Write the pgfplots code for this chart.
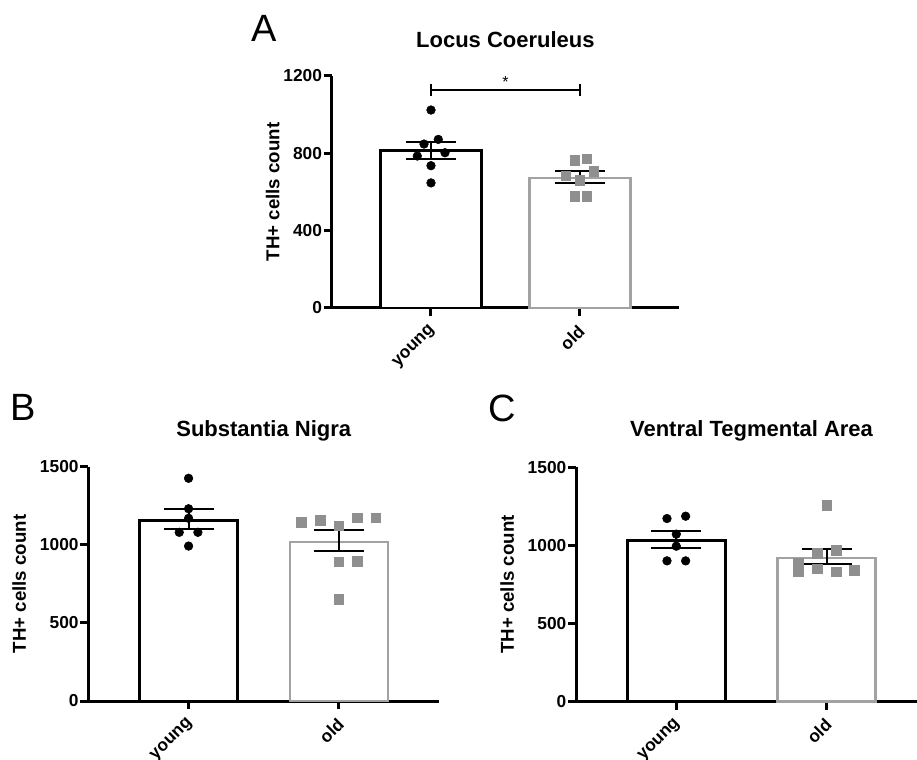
\documentclass[border=0pt]{standalone}
\usepackage{fontspec}
\setmainfont{Liberation Sans}
\usepackage{pgfplots}
\pgfplotsset{compat=1.18}
\definecolor{sqgray}{RGB}{143,143,143}
\definecolor{bargray}{RGB}{162,162,162}

\pgfplotsset{
 panel/.style={
  scale only axis, width=263.25pt, height=175.7pt,
  xmin=-0.667, xmax=1.667, ymin=0,
  axis x line*=bottom, axis y line*=left,
  axis line style={line width=2.25pt, black},
  tick style={line width=2.25pt, black},
  tick align=outside, major tick length=6pt,
  xtick={0,1}, xticklabels={young,old},
  xticklabel style={rotate=45, anchor=east, xshift=-2.1pt, yshift=-7.4pt, font=\fontsize{13}{15}\selectfont\bfseries},
  yticklabel style={xshift=2.25pt, font=\fontsize{13}{15}\selectfont\bfseries},
  /pgf/number format/assume math mode=true,
  /pgf/number format/1000 sep={},
  ylabel={TH+ cells count},
  ylabel style={font=\fontsize{14}{16}\selectfont\bfseries, anchor=center},
  title style={font=\fontsize{16.5}{18}\selectfont\bfseries, at={(axis description cs:0.5,1)}, anchor=center, yshift=21.25pt},
  clip=false,
 },
 ybk/.style={ybar, bar shift=0pt, bar width=#1, draw=black, fill=white, line width=2pt},
 ybg/.style={ybar, bar shift=0pt, bar width=#1, draw=bargray, fill=white, line width=2pt},
 ptc/.style={only marks, mark=*, mark size=3.25pt, black},
 pts/.style={only marks, mark=square*, mark size=3.6pt, sqgray},
 seb/.style={draw=none, mark=none, error bars/.cd, y dir=both, y explicit,
   error mark=|,
   error bar style={draw=black, line width=1.5pt},
   error mark options={draw=black, line width=1.5pt, mark size=18.75pt}},
}

\begin{document}
\begin{tikzpicture}
% Panel A
\begin{axis}[panel, at={(248.8pt,339pt)}, anchor=south west, width=260.5pt, height=174pt,
  ymax=1200, ytick={0,400,800,1200}, title={Locus Coeruleus},
  ylabel style={at={(axis description cs:-0.17,0.5)}}]
\addplot[ybk=75.75pt] coordinates {(0,813)};
\addplot[ybg=75.75pt] coordinates {(1,673)};
\addplot[ptc] coordinates {(0,1024) (0.049,872) (-0.047,848) (0.094,803) (-0.092,786) (0,736) (0,647)};
\addplot[pts] coordinates {(0.966,764) (1.047,771) (0.906,684) (1.094,707) (1,662) (0.966,578) (1.047,578)};
\addplot[seb] coordinates {(0,815) +- (0,45)};
\addplot[seb] coordinates {(1,677) +- (0,31)};
\addplot[black, line width=1.5pt, mark=|, mark size=4.5pt, mark options={line width=1.5pt}] coordinates {(0,1128) (1,1128)};
\node[anchor=base, font=\fontsize{12}{14}\selectfont] at (axis cs:0.5,1138) {*};
\end{axis}
% Panel B
\begin{axis}[panel, at={(66.2pt,44.25pt)}, anchor=south west,
  ymax=1500, ytick={0,500,1000,1500}, title={Substantia Nigra},
  ylabel style={at={(axis description cs:-0.197,0.5)}}]
\addplot[ybk=73.5pt] coordinates {(0,1157)};
\addplot[ybg=73.5pt] coordinates {(1,1019)};
\addplot[ptc] coordinates {(0,1426) (0,1231) (0,1170) (-0.062,1080) (0.062,1080) (0,992)};
\addplot[pts] coordinates {(0.75,1146) (0.874,1159) (1,1122) (1.121,1174) (1.245,1174) (1,892) (1.121,896) (1,653)};
\addplot[seb] coordinates {(0,1164) +- (0,63)};
\addplot[seb] coordinates {(1,1026) +- (0,68)};
\end{axis}
% Panel C
\begin{axis}[panel, at={(432pt,43.7pt)}, anchor=south west,
  ymax=1500, ytick={0,500,1000,1500}, title={Ventral Tegmental Area},
  ylabel style={at={(axis description cs:-0.196,0.5)}}]
\addplot[ybk=73.5pt] coordinates {(0,1032)};
\addplot[ybg=73.5pt] coordinates {(1,920)};
\addplot[ptc] coordinates {(-0.062,1173) (0.062,1188) (0,1073) (0,996) (-0.062,902) (0.062,902)};
\addplot[pts] coordinates {(1,1259) (0.936,950) (1.062,971) (0.812,890) (0.936,851) (1.062,832) (1.183,843) (0.812,832)};
\addplot[seb] coordinates {(0,1037) +- (0,53)};
\addplot[seb] coordinates {(1,929) +- (0,50)};
\end{axis}
\node[font=\fontsize{28.5}{30}\selectfont] at (197.8pt,548.5pt) {A};
\node[font=\fontsize{28.5}{30}\selectfont] at (17.25pt,264.75pt) {B};
\node[font=\fontsize{28.5}{30}\selectfont] at (376.3pt,264pt) {C};
\pgfresetboundingbox
\path[use as bounding box] (0,0) rectangle (687.75pt,570pt);
\end{tikzpicture}
\end{document}
